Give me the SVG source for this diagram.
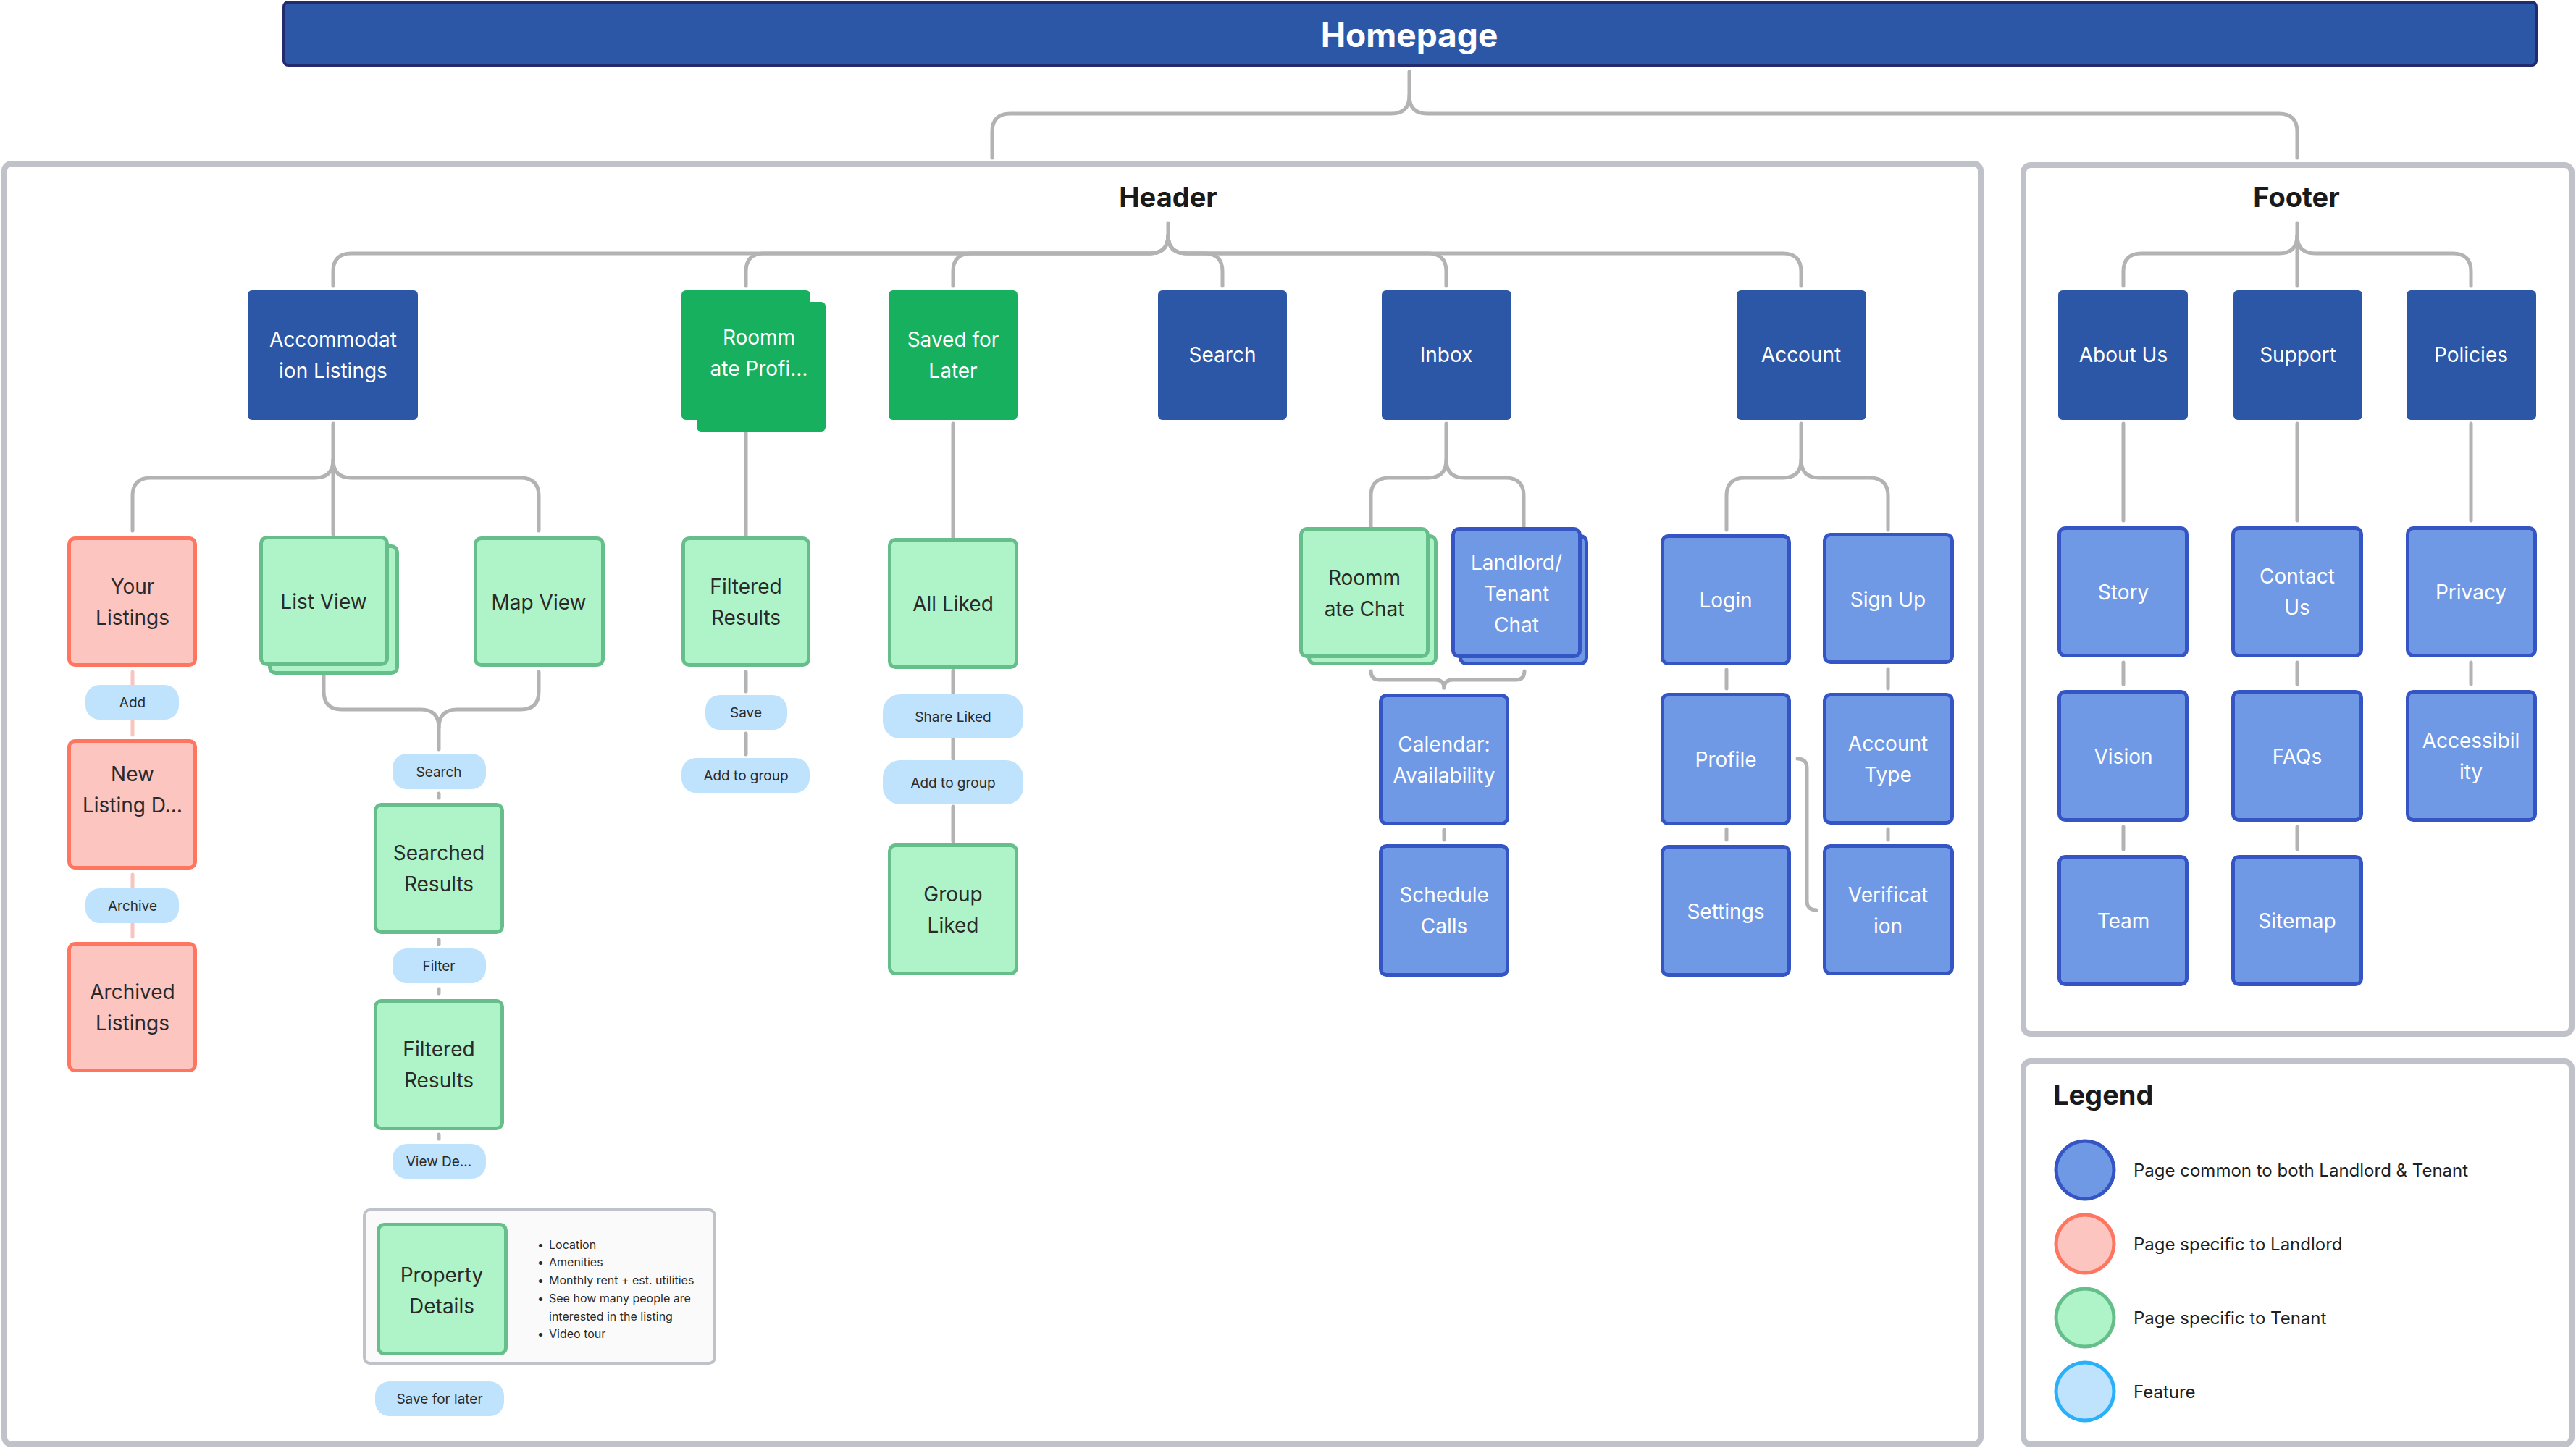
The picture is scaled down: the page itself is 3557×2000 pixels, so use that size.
<svg xmlns="http://www.w3.org/2000/svg" width="3557" height="2000" viewBox="0 0 3557 2000">
<style>
text{font-family:Inter,"Liberation Sans",sans-serif;text-anchor:middle;dominant-baseline:central}
.title{font-size:38px;font-weight:700;fill:#1a1a1a}
.top rect{fill:#2c56a6}
.topg rect{fill:#16b05f}
.top text,.topg text,.com text{fill:#fff;font-size:28px}
.com rect{fill:#6f98e5;stroke:#3555c5;stroke-width:5}
.ten rect{fill:#aef4c8;stroke:#66bf8a;stroke-width:5}
.lan rect{fill:#fdc5c0;stroke:#fe7560;stroke-width:5}
.ten text,.lan text{fill:#2a2a2a;font-size:28px}
.pill rect{fill:#bfe2fd}
.pill text{fill:#2a2a2a;font-size:19px}
.box{fill:#fff;stroke:#bfc2c9;stroke-width:8}
.conn path,.conn line{fill:none;stroke:#b3b3b3;stroke-width:5;stroke-linecap:round}
.conn .pink{stroke:#f8c4be}
.bul{font-size:16px;fill:#2a2a2a;text-anchor:start}
.leg{font-size:24px;fill:#1f1f1f;text-anchor:start}
</style>

<!-- containers -->
<rect class="box" x="6" y="226" width="2729" height="1769" rx="10"/>
<rect class="box" x="2794" y="228" width="757" height="1200" rx="10"/>
<rect class="box" x="2794" y="1466" width="757" height="529" rx="10"/>
<text class="title" x="1613" y="272">Header</text>
<text class="title" x="3171" y="272">Footer</text>

<!-- connectors -->
<g class="conn">
<path d="M1946,99 V132 Q1946,157 1921,157 H1395 Q1370,157 1370,182 V218"/>
<path d="M1946,132 Q1946,157 1971,157 H3147 Q3172,157 3172,182 V218"/>
<path d="M1613,308 V325 Q1613,350 1588,350 H485 Q460,350 460,375 V395"/>
<path d="M1613,325 Q1613,350 1588,350 H1055 Q1030,350 1030,375 V395"/>
<path d="M1613,325 Q1613,350 1588,350 H1341 Q1316,350 1316,375 V395"/>
<path d="M1613,325 Q1613,350 1638,350 H1663 Q1688,350 1688,375 V395"/>
<path d="M1613,325 Q1613,350 1638,350 H1972 Q1997,350 1997,375 V395"/>
<path d="M1613,325 Q1613,350 1638,350 H2462 Q2487,350 2487,375 V395"/>
<path d="M3172,308 V395"/>
<path d="M3172,325 Q3172,350 3147,350 H2957 Q2932,350 2932,375 V395"/>
<path d="M3172,325 Q3172,350 3197,350 H3387 Q3412,350 3412,375 V395"/>
<path d="M460,585 V738"/>
<path d="M460,635 Q460,660 435,660 H208 Q183,660 183,685 V733"/>
<path d="M460,635 Q460,660 485,660 H719 Q744,660 744,685 V733"/>
<line class="pink" x1="183" y1="928" x2="183" y2="946"/>
<line class="pink" x1="183" y1="994" x2="183" y2="1015"/>
<line class="pink" x1="183" y1="1208" x2="183" y2="1227"/>
<line class="pink" x1="183" y1="1275" x2="183" y2="1294"/>
<path d="M447,928 V955 Q447,980 472,980 H581 Q606,980 606,1005 V1035"/>
<path d="M744,928 V955 Q744,980 719,980 H631 Q606,980 606,1005"/>
<line x1="606" y1="1096" x2="606" y2="1102"/>
<line x1="606" y1="1298" x2="606" y2="1304"/>
<line x1="606" y1="1366" x2="606" y2="1372"/>
<line x1="606" y1="1567" x2="606" y2="1573"/>
<line x1="1030" y1="598" x2="1030" y2="741"/>
<line x1="1030" y1="928" x2="1030" y2="955"/>
<line x1="1030" y1="1013" x2="1030" y2="1042"/>
<line x1="1316" y1="585" x2="1316" y2="743"/>
<line x1="1316" y1="926" x2="1316" y2="959"/>
<line x1="1316" y1="1020" x2="1316" y2="1048"/>
<line x1="1316" y1="1114" x2="1316" y2="1162"/>
<path d="M1997,585 V635 Q1997,660 1972,660 H1918 Q1893,660 1893,685 V728"/>
<path d="M1997,635 Q1997,660 2022,660 H2079 Q2104,660 2104,685 V728"/>
<path d="M1893,927 Q1893,939 1905,939 H1982 Q1994,939 1994,950"/>
<path d="M2105,927 Q2105,939 2093,939 H2006 Q1994,939 1994,950"/>
<line x1="1994" y1="1146" x2="1994" y2="1160"/>
<path d="M2487,585 V635 Q2487,660 2462,660 H2409 Q2384,660 2384,685 V732"/>
<path d="M2487,635 Q2487,660 2512,660 H2582 Q2607,660 2607,685 V732"/>
<line x1="2384" y1="925" x2="2384" y2="951"/>
<line x1="2607" y1="924" x2="2607" y2="951"/>
<line x1="2384" y1="1145" x2="2384" y2="1160"/>
<line x1="2607" y1="1145" x2="2607" y2="1160"/>
<path d="M2482,1048 Q2495,1048 2495,1061 V1244 Q2495,1257 2508,1257"/>
<line x1="2932" y1="585" x2="2932" y2="719"/>
<line x1="3172" y1="585" x2="3172" y2="719"/>
<line x1="3412" y1="585" x2="3412" y2="719"/>
<line x1="2932" y1="915" x2="2932" y2="945"/>
<line x1="3172" y1="915" x2="3172" y2="945"/>
<line x1="3412" y1="915" x2="3412" y2="945"/>
<line x1="2932" y1="1142" x2="2932" y2="1173"/>
<line x1="3172" y1="1142" x2="3172" y2="1173"/>
</g>

<!-- homepage -->
<g id="homepage">
<rect x="392" y="3" width="3110" height="87" rx="6" fill="#2c57a6" stroke="#232a6e" stroke-width="4"/>
<text x="1946" y="48" style="font-size:46px;font-weight:700;fill:#fff">Homepage</text>
</g>

<!-- top level -->
<g id="accommodation" class="top"><rect x="342" y="401" width="235" height="179" rx="6"/><text x="460" y="469">Accommodat</text><text x="460" y="512">ion Listings</text></g>
<g id="roommate-profile" class="topg"><rect x="962" y="417" width="178" height="179" rx="6"/><rect x="941" y="401" width="178" height="179" rx="6"/><text x="1048" y="466">Roomm</text><text x="1048" y="509">ate Profi…</text></g>
<g id="saved-for-later" class="topg"><rect x="1227" y="401" width="178" height="179" rx="6"/><text x="1316" y="469">Saved for</text><text x="1316" y="512">Later</text></g>
<g id="search" class="top"><rect x="1599" y="401" width="178" height="179" rx="6"/><text x="1688" y="490">Search</text></g>
<g id="inbox" class="top"><rect x="1908" y="401" width="179" height="179" rx="6"/><text x="1997" y="490">Inbox</text></g>
<g id="account" class="top"><rect x="2398" y="401" width="179" height="179" rx="6"/><text x="2487" y="490">Account</text></g>
<g id="about-us" class="top"><rect x="2842" y="401" width="179" height="179" rx="6"/><text x="2932" y="490">About Us</text></g>
<g id="support" class="top"><rect x="3084" y="401" width="178" height="179" rx="6"/><text x="3173" y="490">Support</text></g>
<g id="policies" class="top"><rect x="3323" y="401" width="179" height="179" rx="6"/><text x="3412" y="490">Policies</text></g>

<!-- landlord -->
<g id="your-listings" class="lan"><rect x="95.5" y="743.5" width="174" height="175" rx="8"/><text x="183" y="810">Your</text><text x="183" y="853">Listings</text></g>
<g id="new-listing" class="lan"><rect x="95.5" y="1023.5" width="174" height="175" rx="8"/><text x="183" y="1069">New</text><text x="183" y="1112">Listing D…</text></g>
<g id="archived-listings" class="lan"><rect x="95.5" y="1303.5" width="174" height="175" rx="8"/><text x="183" y="1370">Archived</text><text x="183" y="1413">Listings</text></g>

<!-- tenant -->
<g id="list-view" class="ten"><rect x="372.5" y="754.5" width="176" height="175" rx="8"/><rect x="360.5" y="742.5" width="174" height="175" rx="8"/><text x="447" y="831">List View</text></g>
<g id="map-view" class="ten"><rect x="656.5" y="743.5" width="176" height="175" rx="8"/><text x="744" y="832">Map View</text></g>
<g id="searched-results" class="ten"><rect x="518.5" y="1111.5" width="175" height="176" rx="8"/><text x="606" y="1178">Searched</text><text x="606" y="1221">Results</text></g>
<g id="filtered-results" class="ten"><rect x="518.5" y="1382.5" width="175" height="176" rx="8"/><text x="606" y="1449">Filtered</text><text x="606" y="1492">Results</text></g>
<g id="property-details">
<rect x="503" y="1671" width="484" height="212" rx="8" fill="#fafafa" stroke="#bfc2c9" stroke-width="4"/>
<g class="ten"><rect x="522.5" y="1691.5" width="176" height="178" rx="8"/><text x="610" y="1761">Property</text><text x="610" y="1804">Details</text></g>
<text class="bul" x="742" y="1719">•</text><text class="bul" x="758" y="1719">Location</text>
<text class="bul" x="742" y="1743">•</text><text class="bul" x="758" y="1743">Amenities</text>
<text class="bul" x="742" y="1768">•</text><text class="bul" x="758" y="1768">Monthly rent + est. utilities</text>
<text class="bul" x="742" y="1793">•</text><text class="bul" x="758" y="1793">See how many people are</text>
<text class="bul" x="758" y="1818">interested in the listing</text>
<text class="bul" x="742" y="1842">•</text><text class="bul" x="758" y="1842">Video tour</text>
</g>
<g id="roommate-filtered" class="ten"><rect x="943.5" y="743.5" width="173" height="175" rx="8"/><text x="1030" y="810">Filtered</text><text x="1030" y="853">Results</text></g>
<g id="all-liked" class="ten"><rect x="1228.5" y="745.5" width="175" height="176" rx="8"/><text x="1316" y="834">All Liked</text></g>
<g id="group-liked" class="ten"><rect x="1228.5" y="1167.5" width="175" height="177" rx="8"/><text x="1316" y="1235">Group</text><text x="1316" y="1278">Liked</text></g>
<g id="roommate-chat" class="ten"><rect x="1807.5" y="740.5" width="175" height="176" rx="8"/><rect x="1796.5" y="730.5" width="175" height="176" rx="8"/><text x="1884" y="798">Roomm</text><text x="1884" y="841">ate Chat</text></g>

<!-- common -->
<g id="landlord-tenant-chat" class="com"><rect x="2016.5" y="740.5" width="174" height="176" rx="8"/><rect x="2006.5" y="730.5" width="175" height="176" rx="8"/><text x="2094" y="777">Landlord/</text><text x="2094" y="820">Tenant</text><text x="2094" y="863">Chat</text></g>
<g id="calendar" class="com"><rect x="1906.5" y="960.5" width="175" height="177" rx="8"/><text x="1994" y="1028">Calendar:</text><text x="1994" y="1071">Availability</text></g>
<g id="schedule-calls" class="com"><rect x="1906.5" y="1168.5" width="175" height="178" rx="8"/><text x="1994" y="1236">Schedule</text><text x="1994" y="1279">Calls</text></g>
<g id="login" class="com"><rect x="2295.5" y="740.5" width="175" height="176" rx="8"/><text x="2383" y="829">Login</text></g>
<g id="sign-up" class="com"><rect x="2519.5" y="738.5" width="176" height="176" rx="8"/><text x="2607" y="828">Sign Up</text></g>
<g id="profile" class="com"><rect x="2295.5" y="959.5" width="175" height="178" rx="8"/><text x="2383" y="1049">Profile</text></g>
<g id="account-type" class="com"><rect x="2519.5" y="959.5" width="176" height="177" rx="8"/><text x="2607" y="1027">Account</text><text x="2607" y="1070">Type</text></g>
<g id="settings" class="com"><rect x="2295.5" y="1169.5" width="175" height="177" rx="8"/><text x="2383" y="1259">Settings</text></g>
<g id="verification" class="com"><rect x="2519.5" y="1168.5" width="176" height="176" rx="8"/><text x="2607" y="1236">Verificat</text><text x="2607" y="1279">ion</text></g>
<g id="story" class="com"><rect x="2843.5" y="729.5" width="176" height="176" rx="8"/><text x="2932" y="818">Story</text></g>
<g id="contact-us" class="com"><rect x="3083.5" y="729.5" width="177" height="176" rx="8"/><text x="3172" y="796">Contact</text><text x="3172" y="839">Us</text></g>
<g id="privacy" class="com"><rect x="3324.5" y="729.5" width="176" height="176" rx="8"/><text x="3412" y="818">Privacy</text></g>
<g id="vision" class="com"><rect x="2843.5" y="955.5" width="176" height="177" rx="8"/><text x="2932" y="1045">Vision</text></g>
<g id="faqs" class="com"><rect x="3083.5" y="955.5" width="177" height="177" rx="8"/><text x="3172" y="1045">FAQs</text></g>
<g id="accessibility" class="com"><rect x="3324.5" y="955.5" width="176" height="177" rx="8"/><text x="3412" y="1023">Accessibil</text><text x="3412" y="1066">ity</text></g>
<g id="team" class="com"><rect x="2843.5" y="1183.5" width="176" height="176" rx="8"/><text x="2932" y="1272">Team</text></g>
<g id="sitemap" class="com"><rect x="3083.5" y="1183.5" width="177" height="176" rx="8"/><text x="3172" y="1272">Sitemap</text></g>

<!-- features -->
<g id="f-add" class="pill"><rect x="118" y="946" width="129" height="48" rx="20"/><text x="183" y="970">Add</text></g>
<g id="f-archive" class="pill"><rect x="118" y="1227" width="129" height="48" rx="20"/><text x="183" y="1251">Archive</text></g>
<g id="f-search" class="pill"><rect x="542" y="1041" width="129" height="49" rx="20"/><text x="606" y="1066">Search</text></g>
<g id="f-filter" class="pill"><rect x="542" y="1310" width="129" height="48" rx="20"/><text x="606" y="1334">Filter</text></g>
<g id="f-view-details" class="pill"><rect x="542" y="1580" width="129" height="48" rx="20"/><text x="606" y="1604">View De…</text></g>
<g id="f-save-for-later" class="pill"><rect x="518" y="1908" width="178" height="48" rx="20"/><text x="607" y="1932">Save for later</text></g>
<g id="f-save" class="pill"><rect x="974" y="960" width="113" height="48" rx="20"/><text x="1030" y="984">Save</text></g>
<g id="f-add-to-group-1" class="pill"><rect x="941" y="1047" width="177" height="48" rx="20"/><text x="1030" y="1071">Add to group</text></g>
<g id="f-share-liked" class="pill"><rect x="1219" y="959" width="194" height="61" rx="24"/><text x="1316" y="990">Share Liked</text></g>
<g id="f-add-to-group-2" class="pill"><rect x="1219" y="1050" width="194" height="61" rx="24"/><text x="1316" y="1081">Add to group</text></g>

<!-- legend -->
<g id="legend">
<text x="2835" y="1512" style="font-size:38px;font-weight:700;fill:#1a1a1a;text-anchor:start">Legend</text>
<circle cx="2879" cy="1616" r="40" fill="#6f98e5" stroke="#3555c5" stroke-width="5"/>
<text class="leg" x="2946" y="1616">Page common to both Landlord &amp; Tenant</text>
<circle cx="2879" cy="1718" r="40" fill="#fdc5c0" stroke="#fe7560" stroke-width="5"/>
<text class="leg" x="2946" y="1718">Page specific to Landlord</text>
<circle cx="2879" cy="1820" r="40" fill="#aef4c8" stroke="#66bf8a" stroke-width="5"/>
<text class="leg" x="2946" y="1820">Page specific to Tenant</text>
<circle cx="2879" cy="1922" r="40" fill="#bfe2fd" stroke="#29b0fb" stroke-width="5"/>
<text class="leg" x="2946" y="1922">Feature</text>
</g>
</svg>
